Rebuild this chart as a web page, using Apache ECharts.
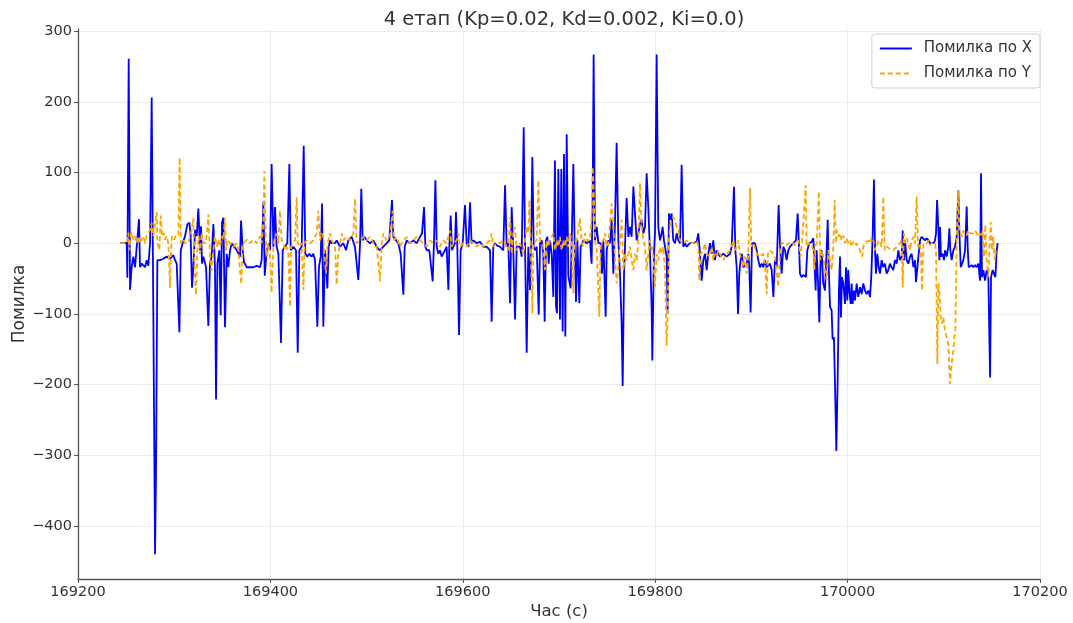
<!DOCTYPE html>
<html><head><meta charset="utf-8">
<script src="https://cdn.jsdelivr.net/npm/echarts@6/dist/echarts.min.js"></script>
<style>html,body{margin:0;padding:0;background:#fff}#c{width:1073px;height:623px}</style>
</head><body><div id="c"></div>
<script>
const chartTitle = "4 етап (Kp=0.02, Kd=0.002, Ki=0.0)";
const seriesNames = ["Помилка по X", "Помилка по Y"];
const yTicks = [-400, -300, -200, -100, 0, 100, 200, 300];

const timeX = [169243.7,169250.6,169251.3,169252.7,169254.1,169255.8,169257.5,169259.3,169261.0,169263.4,169264.5,169266.2,169267.9,169269.7,169271.4,169273.1,169274.9,169276.6,169278.3,169280.1,169281.1,169282.5,169285.3,169288.7,169292.2,169295.7,169299.1,169300.9,169302.6,169305.4,169306.8,169308.8,169311.3,169313.7,169315.8,169317.1,169318.5,169319.9,169321.7,169323.4,169325.1,169326.9,169327.9,169328.9,169330.3,169333.1,169335.5,169337.2,169339.0,169340.7,169342.4,169343.5,169344.9,169346.9,169348.3,169349.7,169351.1,169352.8,169354.6,169356.3,169358.0,169359.8,169361.5,169365.0,169368.4,169369.5,169371.2,169372.6,169375.4,169378.8,169382.3,169385.8,169389.2,169390.9,169392.7,169394.1,169396.2,169398.6,
169399.6,169401.3,169403.1,169404.8,169406.5,169408.3,169411.0,169412.8,169415.2,169417.6,169419.7,169421.1,169423.9,169426.6,169428.4,169430.1,169432.5,169434.6,169436.3,169438.4,169440.5,169442.9,169444.6,169446.4,169448.8,169450.5,169452.3,169453.7,169455.0,169456.8,169459.2,169460.6,169462.0,169463.7,169467.2,169468.9,169472.4,169475.8,169478.6,169481.0,169484.5,169487.9,169491.4,169493.2,169494.5,169495.9,169497.7,169500.1,169503.6,169507.0,169510.5,169513.9,169517.4,169520.9,169523.6,169526.4,169527.8,169530.6,169533.0,169535.4,169538.2,169539.6,169541.7,169545.1,169548.6,169552.1,169555.5,169557.6,169559.7,169561.1,169562.5,169565.2,169568.7,169570.1,169571.5,169572.9,169574.6,169576.3,
169578.0,169579.8,169581.5,169583.2,169585.0,169586.0,169587.4,169588.8,169590.2,169591.9,169592.9,169594.3,169596.1,169597.8,169599.9,169602.3,169604.0,169605.8,169607.5,169609.2,169611.0,169614.4,169617.9,169621.3,169624.8,169628.3,169630.0,169631.7,169633.5,169635.2,169638.7,169642.1,169643.9,169645.6,169647.3,169649.1,169650.8,169652.5,169654.3,169656.0,169659.5,169661.2,169663.3,169664.7,169666.4,169668.1,169669.9,169670.9,169672.3,169673.7,169675.1,169676.8,169678.9,169680.3,169682.0,169683.7,169685.1,169686.5,169687.9,169689.3,169690.6,169692.4,169694.1,169695.8,169696.9,169697.9,169699.3,169701.0,169702.4,169703.8,169705.2,169706.6,169708.0,169709.7,169712.1,169713.2,169714.9,169716.3,169717.7,169719.1,169721.1,169722.5,169725.3,169728.8,169732.2,169733.9,169735.0,169736.0,169737.4,169739.2,169740.9,169743.3,169744.7,169746.1,169748.5,169749.6,169751.3,169753.0,
169754.7,169756.5,169758.2,169759.9,169761.7,169763.4,169765.1,169766.2,169767.6,169768.6,169770.3,169772.1,169773.8,169775.5,169777.3,169779.0,169780.7,169782.5,169784.2,169785.9,169787.7,169789.4,169791.1,169792.8,169794.6,169796.3,169797.0,169798.7,169799.8,169801.5,169803.2,169805.0,169806.7,169807.7,169809.1,169810.2,169811.9,169812.9,169814.3,169815.4,169817.1,169818.8,169820.6,169822.3,169824.0,169825.8,169827.5,169829.2,169831.0,169832.7,169836.2,169839.6,169843.1,169844.8,169846.6,169848.3,169850.0,169851.8,169853.5,169855.2,169857.0,169858.7,169860.4,169862.1,169863.9,169865.6,169867.3,169870.8,169874.3,169877.7,169879.5,169881.9,169883.3,169884.7,169886.1,169887.4,169888.8,169890.2,169891.6,169895.1,169896.8,169897.8,169899.2,169900.6,169902.0,169903.7,169905.5,169907.2,169908.9,169910.7,169912.4,169914.1,169915.9,169919.3,169921.1,169922.8,169924.5,169926.3,169928.3,169929.7,
169931.4,169933.2,169934.9,169936.6,169938.4,169940.1,169943.6,169946.3,169948.1,169949.5,169950.5,169952.2,169953.9,169956.7,169958.1,169960.2,169962.6,169964.4,169965.4,169966.8,169967.8,169969.2,169970.6,169972.0,169973.0,169974.7,169976.5,169978.2,169979.3,169980.3,169981.7,169983.4,169984.4,169985.8,169986.9,169988.3,169989.6,169991.0,169992.1,169993.1,169994.1,169995.5,169997.3,169998.3,169999.7,170000.7,170001.8,170003.2,170004.2,170005.2,170006.6,170007.7,170009.4,170011.1,170012.9,170014.6,170016.3,170018.1,170019.8,170021.5,170023.3,170024.6,170026.0,170027.4,170028.5,170029.5,170030.9,170032.3,170033.7,170035.4,170037.1,170038.8,170040.6,170042.3,170044.0,170045.8,170047.5,170049.2,170051.0,170052.7,170054.4,
170056.2,170057.3,170058.7,170059.7,170061.4,170063.2,170064.9,170066.6,170068.4,170070.1,170071.1,170072.5,170073.6,170075.3,170077.0,170078.8,170080.5,170082.2,170084.0,170085.7,170087.4,170089.2,170090.9,170091.9,170093.0,170094.3,170095.4,170096.1,170097.1,170098.9,170100.2,170101.3,170103.0,170104.7,170105.8,170106.8,170108.2,170109.9,170111.7,170113.4,170115.1,170116.2,170117.6,170119.0,170120.3,170122.1,170123.8,170124.8,170125.9,170127.3,170129.0,170130.7,170132.5,170134.2,170135.9,170137.7,170138.7,170139.7,170141.1,170142.9,170144.6,170146.3,170148.1,170149.1,170150.8,170152.2,170153.6,170155.0,170156.0];

const errX = [0,0,-49,261,-66,-34,-19,-34,-32,34,-34,-29,-29,-34,-24,-32,0,206,-97,-440,-321,-24,-24,-22,-19,-22,-17,-24,-29,-126,-10,0,10,27,29,10,-63,-34,19,10,49,-10,24,-29,-19,-34,-117,-29,-19,27,-34,-221,-29,-10,-102,29,36,-119,-15,-34,-10,0,0,-10,-19,32,-10,-27,-34,-34,-34,-32,-34,-24,58,-46,-10,0,
-10,112,-5,51,-5,-15,-141,-10,-5,0,112,-10,-5,-10,-155,-10,-5,138,-15,-19,-15,-19,-15,-24,-118,-33,-19,56,-118,-10,-64,-5,4,0,0,4,-5,0,-10,4,9,-5,-52,0,77,4,9,4,0,4,-5,-10,-5,0,4,61,9,4,0,-15,-73,-5,4,0,4,0,9,14,51,-5,-10,-10,-54,4,89,-5,-15,-10,
-19,-17,-10,-5,-66,-5,39,-10,-5,0,44,-5,-130,-10,0,54,0,-5,58,0,4,0,2,-5,-5,-10,-111,-5,0,-3,-5,-10,82,-5,0,-85,51,-10,-108,-5,-5,-19,164,-5,-155,-5,-66,-5,122,-5,-10,-5,-101,0,4,-15,-111,4,9,-29,4,-15,-76,117,-90,-99,105,-108,105,-125,126,-132,154,-47,-64,4,112,-5,-83,4,-85,-5,4,0,4,-29,61,267,4,23,0,0,-43,4,-104,-10,4,0,
33,-43,28,142,4,-43,-114,-202,-43,-5,64,9,23,9,80,78,4,14,28,33,14,23,99,52,-15,-91,-166,-15,14,267,23,4,14,23,4,-5,-19,-100,42,33,42,4,0,14,4,0,111,-5,0,-5,0,0,2,14,-15,-53,-24,-15,-38,-15,0,-15,4,-24,-10,-15,-19,-15,-19,-15,-5,80,-10,-34,-100,-43,-24,-15,-34,-29,-15,-34,-98,0,2,0,-10,-24,-34,-29,-34,-24,-34,-29,-38,-76,-24,-34,54,0,
-43,-5,-10,-24,-10,-5,0,4,42,-5,-43,-48,-45,-48,-10,0,2,7,-24,-67,-10,-53,-112,-15,-10,-57,-67,-10,33,-29,-90,-95,-136,-133,-199,-294,-199,-67,-19,-105,-48,-57,-86,-34,-81,-38,-67,-86,-57,-86,-67,-81,-57,-76,-62,-72,-57,-67,-72,-67,-76,-48,9,90,-10,-43,-15,-34,-43,-24,-34,-29,-43,-38,-29,-34,-38,-24,-29,-10,-24,
-19,18,-24,4,-24,-29,-19,-15,-34,-24,-55,-57,-19,4,9,7,4,7,4,0,2,0,4,14,61,23,-24,23,-19,-15,-24,-10,-19,-5,21,-10,-24,-10,-5,9,75,14,-34,-29,-24,-10,52,-5,-34,-34,-31,-34,-31,-34,-29,-53,99,-48,-38,-53,-38,-48,-190,-48,-38,-43,-48,-10,0];

const timeY = [169243.7,169250.6,169252.4,169253.4,169254.8,169255.8,169257.5,169259.3,169261.0,169262.7,169264.5,169266.2,169267.9,169269.7,169271.4,169273.1,169274.9,169276.6,169278.3,169280.1,169281.8,169282.5,169284.6,169286.0,169287.4,169288.7,169290.5,169292.2,169293.9,169295.7,169296.7,169297.7,169299.8,169301.9,169304.3,169305.7,169306.8,169308.1,169309.5,169311.3,169314.7,169318.2,169319.9,169321.3,169322.7,169324.1,169325.5,169326.9,169328.6,169330.3,169333.1,169335.5,169337.2,169339.0,169340.7,169342.4,169344.2,169345.9,169347.6,169349.4,169351.1,169352.8,169353.9,169355.3,169358.0,169359.8,169361.5,169365.0,169366.7,169368.4,169369.8,169371.2,169373.6,169375.4,169378.8,169382.3,169385.8,169389.2,169390.9,169392.7,169393.7,169395.1,169396.2,169397.9,
169399.6,169401.3,169403.1,169404.8,169406.5,169408.3,169410.0,169411.7,169413.5,169415.2,169416.9,169418.7,169420.4,169421.4,169423.9,169425.6,169427.3,169428.4,169430.1,169432.5,169434.3,169435.6,169437.7,169441.2,169444.6,169448.1,169449.8,169451.6,169453.3,169455.0,169457.8,169459.5,169462.0,169463.7,169467.2,169468.9,169470.6,169472.4,169474.1,169475.8,169479.3,169482.8,169486.2,169488.0,169489.7,169493.2,169496.6,169500.1,169503.6,169507.0,169510.5,169513.9,169515.7,169517.4,169520.9,169524.3,169527.1,169528.5,169531.3,169534.7,169538.2,169541.7,169545.1,169548.6,169552.1,169555.5,169559.0,169562.5,169565.9,169569.4,169572.9,169576.3,
169578.0,169579.8,169583.2,169586.7,169588.4,169590.2,169593.6,169595.4,169597.1,169600.6,169604.0,169607.5,169611.0,169614.4,169617.9,169621.3,169624.8,169628.3,169630.0,169631.7,169635.2,169638.7,169642.1,169645.6,169647.3,169649.1,169650.8,169652.5,169654.3,169656.0,169659.5,169662.9,169664.7,169666.4,169668.1,169669.2,169670.5,169672.3,169673.3,169676.8,169678.5,169680.3,169682.0,169683.7,169685.4,169687.2,169688.9,169690.6,169694.1,169695.8,169697.6,169699.3,169701.0,169702.8,169704.5,169706.2,169708.0,169709.7,169711.4,169713.2,169714.9,169715.9,169718.4,169721.8,169723.6,169725.3,169727.0,169728.8,169732.2,169733.9,169735.0,169736.4,169737.8,169739.2,169741.9,169743.3,169746.1,169747.8,169749.6,169751.3,
169754.7,169756.5,169758.2,169759.9,169761.7,169763.4,169765.1,169766.9,169768.6,169770.3,169772.1,169773.8,169775.5,169777.3,169779.0,169780.7,169782.5,169784.2,169785.9,169787.7,169789.4,169791.1,169792.8,169794.6,169796.3,169798.0,169799.8,169801.5,169803.2,169805.0,169806.7,169808.4,169810.2,169811.9,169812.9,169814.3,169815.4,169817.1,169818.8,169820.6,169822.3,169824.0,169825.8,169829.2,169832.7,169836.2,169839.6,169843.1,169844.8,169845.9,169847.2,169850.0,169851.8,169853.5,169857.0,169858.7,169860.4,169862.1,169863.9,169865.6,169867.3,169870.8,169874.3,169877.7,169879.5,169881.2,169882.9,169884.7,169886.4,169888.1,169889.9,169891.6,169893.3,169895.1,169896.8,169898.5,169899.9,169902.0,169905.5,169908.9,169912.4,169914.1,169915.9,169917.2,169919.3,169922.8,169924.5,169928.0,169929.7,
169931.4,169933.2,169934.9,169936.6,169938.4,169941.8,169945.3,169948.8,169951.2,169952.6,169954.6,169956.4,169957.4,169959.2,169962.6,169964.4,169965.4,169966.4,169967.8,169970.2,169971.6,169973.0,169974.7,169976.5,169978.2,169979.9,169981.7,169983.4,169985.1,169986.5,169987.9,169989.3,169990.7,169992.1,169993.8,169995.5,169997.3,169999.0,170000.7,170002.5,170004.2,170005.9,170007.7,170009.4,170012.9,170015.3,170016.3,170018.1,170021.5,170023.3,170025.0,170026.7,170028.5,170030.2,170031.9,170033.7,170035.4,170037.1,170038.5,170040.6,170044.0,170047.5,170051.0,170054.4,
170056.2,170057.2,170058.4,170059.7,170061.4,170063.2,170064.9,170066.6,170068.4,170070.1,170071.8,170073.2,170074.6,170076.0,170077.4,170078.8,170080.5,170082.2,170084.0,170085.7,170087.4,170089.2,170090.9,170091.9,170093.3,170094.3,170095.4,170096.8,170098.2,170099.5,170101.3,170103.0,170104.7,170106.5,170107.5,170108.9,170109.9,170111.0,170112.0,170113.4,170114.8,170116.2,170117.6,170119.0,170120.3,170122.1,170123.8,170125.5,170127.3,170129.0,170130.7,170132.5,170134.2,170135.9,170137.7,170139.4,170140.4,170141.8,170143.2,170144.6,170146.3,170147.4,170148.8,170150.1,170151.5,170152.9,170154.3,170156.0];

const errY = [0,0,15,-10,10,15,5,10,0,10,0,5,10,0,10,15,19,29,10,10,44,0,-10,39,10,15,5,10,0,-63,-10,10,5,10,10,121,0,0,5,0,0,19,36,-39,-73,-10,10,-15,15,0,0,41,-19,-39,-10,10,-5,5,-5,10,5,36,-10,5,0,-2,-5,0,-10,-39,-58,0,2,5,0,5,0,10,0,29,102,10,-19,0,
-19,-70,-5,9,14,0,46,4,0,-10,-5,-15,-90,-5,0,4,65,0,-5,0,-66,0,4,0,4,14,46,4,14,9,-43,0,14,4,-5,-59,-15,0,14,4,9,4,14,63,0,4,9,4,9,0,-5,-54,0,14,4,9,46,4,9,-5,4,9,0,4,9,4,0,-5,4,0,4,-5,
0,4,0,18,-5,0,4,14,-5,0,-5,4,0,-5,0,-5,0,4,14,-5,0,0,4,-5,-10,37,-15,14,23,-10,0,-15,4,23,14,61,0,-99,0,4,89,4,0,-5,-38,4,-5,4,14,-10,4,-5,9,-10,4,-5,9,-5,14,0,-71,0,4,35,0,-5,14,4,4,37,108,61,0,-5,-104,0,4,14,-5,0,
56,23,-19,-57,-34,4,33,-38,-15,-24,-15,-5,-24,-38,-15,-24,4,85,23,4,-5,-38,-15,4,-5,-19,-62,-15,-24,-5,-15,-5,-43,-145,-109,4,23,33,37,33,23,18,4,0,4,0,0,4,-5,-53,-15,-10,0,-15,-19,-5,-24,-15,-19,-10,-15,-24,-15,-10,-5,4,-10,-5,4,-15,-24,-34,-19,-43,-15,78,-5,0,-15,-19,-15,-29,-72,-15,-10,-15,-19,-62,-15,
0,2,0,-3,0,2,-3,4,-19,0,2,82,-5,0,-3,-10,-38,-5,0,73,-24,-10,-19,-38,-52,-10,-24,-38,-5,61,0,18,9,14,4,11,0,7,0,4,-5,2,-3,0,-10,-19,-5,0,4,0,9,4,-10,-5,4,0,-5,66,-10,-5,-8,-10,-5,0,
4,-62,14,0,7,0,-10,4,9,0,66,-5,0,-10,-67,0,2,0,4,-3,0,2,0,-10,-171,-57,-67,-105,-114,-105,-124,-133,-143,-199,-180,-161,-152,-133,-124,4,75,18,14,9,18,14,11,18,14,16,14,18,14,9,14,9,18,-19,26,-24,-48,-10,30,-10,9,-24,-10,-10];

const pairs = (t, v) => t.map((x, i) => [x, v[i]]);
const minusFmt = v => (v < 0 ? '\u2212' + (-v) : String(v));
const FONT = '"DejaVu Sans", sans-serif';
const chart = echarts.init(document.getElementById('c'), null, {renderer: 'canvas'});
chart.setOption({
  animation: false,
  backgroundColor: '#ffffff',
  textStyle: {fontFamily: FONT},
  title: {
    text: chartTitle, left: 559, textAlign: 'center', top: 5,
    textStyle: {fontFamily: FONT, fontSize: 19.5, fontWeight: 'normal', color: '#333333'}
  },
  legend: {
    orient: 'vertical', right: 33, top: 34,
    backgroundColor: '#ffffff', borderColor: '#d0d0d0', borderWidth: 1, borderRadius: 3,
    padding: [7, 8, 7, 7], itemGap: 10, itemWidth: 32, itemHeight: 14,
    itemStyle: {opacity: 0},
    textStyle: {fontFamily: FONT, fontSize: 15, color: '#333333', padding: [0, 0, 0, 7]},
    data: seriesNames
  },
  grid: {left: 78, right: 33, top: 29, bottom: 44, containLabel: false, outerBoundsMode: 'none'},
  xAxis: {
    type: 'value', min: 169200, max: 170200, interval: 200,
    name: 'Час (с)', nameLocation: 'middle', nameGap: 24, nameMoveOverlap: false,
    nameTextStyle: {fontFamily: FONT, fontSize: 16.5, color: '#333333'},
    axisLine: {show: true, onZero: false, lineStyle: {color: '#555555', width: 1.3}},
    axisTick: {show: true, length: 4, lineStyle: {color: '#555555'}},
    axisLabel: {fontFamily: FONT, fontSize: 14.5, color: '#333333', margin: 6, formatter: v => String(v)},
    splitLine: {show: true, lineStyle: {color: '#ebebeb', width: 1}}
  },
  yAxis: {
    type: 'value', min: -475, max: 303,
    name: 'Помилка', nameLocation: 'middle', nameGap: 50, nameMoveOverlap: false,
    nameTextStyle: {fontFamily: FONT, fontSize: 17, color: '#333333'},
    axisLine: {show: true, lineStyle: {color: '#555555', width: 1.3}},
    axisTick: {show: true, length: 4, lineStyle: {color: '#555555'}, customValues: yTicks},
    axisLabel: {fontFamily: FONT, fontSize: 14.5, color: '#333333', margin: 6, customValues: yTicks, formatter: minusFmt},
    splitLine: {show: true, lineStyle: {color: '#ebebeb', width: 1}}
  },
  series: [
    {name: seriesNames[0], type: 'line', data: pairs(timeX, errX), showSymbol: false, symbol: 'none',
     color: '#0000ff', lineStyle: {color: '#0000ff', width: 1.8}},
    {name: seriesNames[1], type: 'line', data: pairs(timeY, errY), showSymbol: false, symbol: 'none',
     color: '#ffa500', lineStyle: {color: '#ffa500', width: 1.8, type: [5, 3]}}
  ]
});
</script></body></html>
